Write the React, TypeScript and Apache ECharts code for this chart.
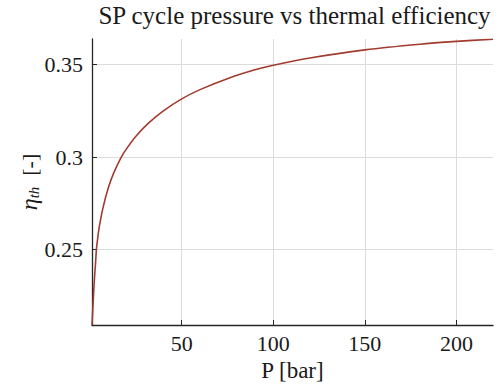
import React, { useEffect, useRef } from "react";
import * as echarts from "echarts";

const pressure = [1, 1.5, 2, 2.5, 3, 3.4, 4, 5, 7, 10, 13, 17, 20, 25, 32, 40, 50, 60, 76, 90, 100, 120, 150, 180, 200, 220];
const efficiency = [0.2091, 0.219, 0.2285, 0.2365, 0.2435, 0.25, 0.2552, 0.2623, 0.2725, 0.2836, 0.2917, 0.3, 0.3047, 0.3113, 0.3185, 0.325, 0.3315, 0.3365, 0.3428, 0.3472, 0.3497, 0.3536, 0.358, 0.3611, 0.3626, 0.3638];
const xTicks = [50, 100, 150, 200];
const xTickLabels = ["50", "100", "150", "200"];
const yTicks = [0.25, 0.3, 0.35];
const yTickLabels = ["0.25", "0.3", "0.35"];
const X_MIN = 1;
const X_MAX = 220;
const Y_MIN = 0.2091;
const Y_MAX = 0.3639;
const TITLE = "SP cycle pressure vs thermal efficiency";
const X_NAME = "P [bar]";

const FONT = "Liberation Serif";
const INK = "#1a1a1a";

export default function App() {
  const ref = useRef<HTMLDivElement>(null);
  useEffect(() => {
    if (!ref.current) return;
    const chart = echarts.init(ref.current, null, { renderer: "svg" });
    chart.setOption({
      animation: false,
      backgroundColor: "#ffffff",
      grid: { left: 92, right: 5, top: 39, bottom: 67 },
      xAxis: {
        type: "value",
        min: X_MIN,
        max: X_MAX,
        axisLine: { show: true, lineStyle: { color: "#262626", width: 1.3 } },
        axisTick: { show: true, inside: true, length: 5, customValues: xTicks, lineStyle: { color: "#262626" } },
        axisLabel: { show: false, customValues: xTicks },
        splitLine: { show: true, lineStyle: { color: "#dcdcdc", width: 1 } },
      },
      yAxis: {
        type: "value",
        min: Y_MIN,
        max: Y_MAX,
        axisLine: { show: true, lineStyle: { color: "#262626", width: 1.3 } },
        axisTick: { show: true, inside: true, length: 5, customValues: yTicks, lineStyle: { color: "#262626" } },
        axisLabel: { show: false, customValues: yTicks },
        splitLine: { show: true, lineStyle: { color: "#dcdcdc", width: 1 } },
      },
      series: [
        {
          type: "line",
          data: pressure.map((p, i) => [p, efficiency[i]]),
          smooth: 0.3,
          showSymbol: false,
          clip: true,
          lineStyle: { color: "#a23b2f", width: 1.6 },
        },
      ],
    });

    const toPx = (x: number, y: number) => chart.convertToPixel({ gridIndex: 0 }, [x, y]) as number[];
    const [left, bottom] = toPx(X_MIN, Y_MIN);
    const [right, top] = toPx(X_MAX, Y_MAX);
    const cx = (left + right) / 2;
    const cy = (top + bottom) / 2;

    const graphics: any[] = [];
    xTicks.forEach((t, i) => {
      const [px] = toPx(t, Y_MIN);
      graphics.push({
        type: "text",
        x: px,
        y: bottom + 7,
        style: { text: xTickLabels[i], fontFamily: FONT, fontSize: 22, fill: INK, align: "center", verticalAlign: "top" },
      });
    });
    yTicks.forEach((t, i) => {
      const [, py] = toPx(X_MIN, t);
      graphics.push({
        type: "text",
        x: left - 9,
        y: py,
        style: { text: yTickLabels[i], fontFamily: FONT, fontSize: 22, fill: INK, align: "right", verticalAlign: "middle" },
      });
    });
    graphics.push({
      type: "text",
      x: cx + 2,
      y: 3,
      style: { text: TITLE, fontFamily: FONT, fontSize: 25, fill: INK, align: "center", verticalAlign: "top" },
    });
    graphics.push({
      type: "text",
      x: cx,
      y: bottom + 45,
      style: { text: X_NAME, fontFamily: FONT, fontSize: 23, fill: INK, align: "center", verticalAlign: "middle" },
    });
    graphics.push({
      type: "text",
      x: 29,
      y: cy,
      rotation: Math.PI / 2,
      style: {
        text: "{eta|η}{sub|th}  {br|[-]}",
        fontFamily: FONT,
        fontSize: 22,
        fill: INK,
        align: "center",
        verticalAlign: "middle",
        rich: {
          eta: { fontFamily: FONT, fontSize: 24, fontStyle: "italic", fill: INK },
          sub: { fontFamily: FONT, fontSize: 15, fontStyle: "italic", fill: INK, padding: [9, 0, 0, 0] },
          br: { fontFamily: FONT, fontSize: 22, fill: INK },
        },
      },
    });
    chart.setOption({ graphic: graphics });

    return () => chart.dispose();
  }, []);
  return <div ref={ref} style={{ position: "fixed", left: 0, top: 0, width: 498, height: 392 }} />;
}
